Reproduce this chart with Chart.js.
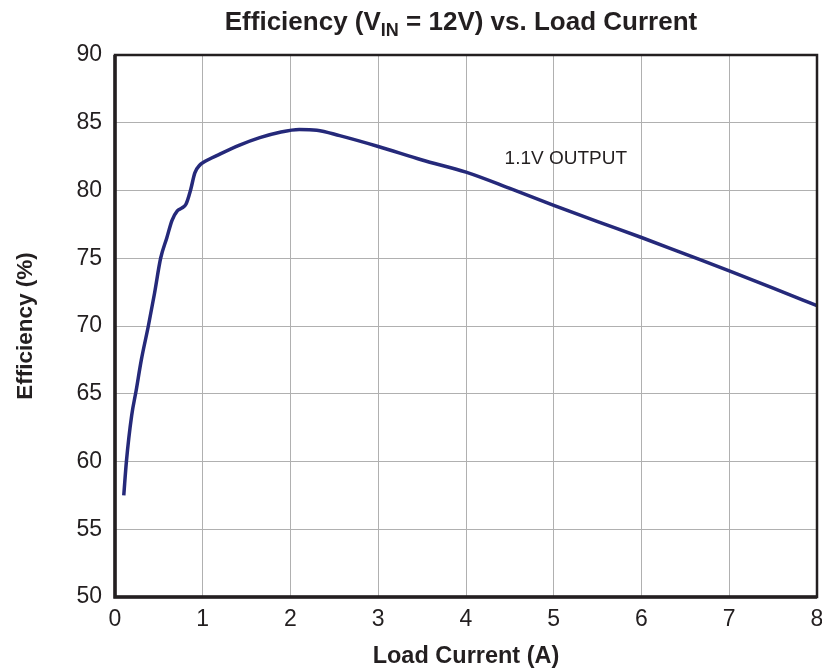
<!DOCTYPE html>
<html>
<head>
<meta charset="utf-8">
<script src="https://cdn.jsdelivr.net/npm/chart.js@4.4.1/dist/chart.umd.min.js"></script>
<style>
  body { margin: 0; background: #fff; }
  #wrap { position: relative; width: 822px; height: 671px; }
  #title {
    position: absolute; left: 0; top: 6px; width: 822px; padding-left: 100px; box-sizing: border-box;
    text-align: center; font: bold 26px "Liberation Sans", Arial, sans-serif; color: #231f20;
  }
  #title sub { font-size: 18px; vertical-align: -6px; line-height: 0; }
</style>
</head>
<body>
<div id="wrap">
  <div id="title">Efficiency (V<sub>IN</sub> = 12V) vs. Load Current</div>
  <canvas id="chart" width="822" height="671"></canvas>
</div>
<script>
const loadCurrent = [0.10, 0.13, 0.19, 0.24, 0.30, 0.38, 0.45, 0.52, 0.59, 0.65, 0.71, 0.76, 0.81, 0.86, 0.91, 0.97, 1.0, 1.2, 1.42, 1.65, 1.88, 2.1, 2.3, 2.56, 3.0, 3.5, 4.0, 4.5, 5.0, 5.5, 6.0, 6.5, 7.0, 7.5, 8.0];
const efficiency  = [57.5, 60.0, 63.4, 65.2, 67.5, 70.0, 72.4, 75.0, 76.5, 77.8, 78.5, 78.7, 79.0, 80.0, 81.3, 81.9, 82.05, 82.7, 83.35, 83.9, 84.3, 84.5, 84.45, 84.05, 83.25, 82.25, 81.35, 80.15, 78.9, 77.7, 76.53, 75.3, 74.07, 72.8, 71.5];
const xTicks = [0, 1, 2, 3, 4, 5, 6, 7, 8];
const yTicks = [50, 55, 60, 65, 70, 75, 80, 85, 90];
const seriesLabel = "1.1V OUTPUT";

const points = loadCurrent.map((x, i) => ({x: x, y: efficiency[i]}));
const FONT = '"Liberation Sans", Arial, sans-serif';

const frame = {
  id: 'frame',
  afterDatasetsDraw(chart) {
    const {ctx, chartArea: a, scales} = chart;
    ctx.save();
    ctx.strokeStyle = '#231f20';
    ctx.lineWidth = 2.5;
    ctx.strokeRect(a.left, a.top, a.right - a.left, a.bottom - a.top);
    ctx.lineWidth = 3.5;
    ctx.beginPath();
    ctx.moveTo(a.left, a.top); ctx.lineTo(a.left, a.bottom); ctx.lineTo(a.right, a.bottom);
    ctx.stroke();
    // series label
    ctx.fillStyle = '#231f20';
    ctx.font = '19px ' + FONT;
    ctx.textBaseline = 'middle';
    ctx.fillText(seriesLabel, scales.x.getPixelForValue(4.44), scales.y.getPixelForValue(82.35));
    ctx.restore();
  }
};

new Chart('chart', {
  type: 'line',
  data: {
    datasets: [{
      data: points,
      borderColor: '#25297a',
      borderWidth: 3.5,
      pointRadius: 0,
      cubicInterpolationMode: 'monotone',
      fill: false
    }]
  },
  options: {
    responsive: false,
    animation: false,
    layout: {padding: {top: 55, right: 5, left: 0, bottom: 0}},
    plugins: {legend: {display: false}, tooltip: {enabled: false}},
    scales: {
      x: {
        type: 'linear', min: 0, max: 8,
        afterBuildTicks: s => { s.ticks = xTicks.map(v => ({value: v})); },
        afterFit: s => { s.height = 74; s.paddingLeft = 0; s.paddingRight = 0; },
        grid: {color: '#b0b0b0', lineWidth: 1, drawTicks: false},
        border: {display: false},
        ticks: {color: '#231f20', padding: 9, font: {family: FONT, size: 23}},
        title: {display: true, text: 'Load Current (A)', color: '#231f20', padding: {top: 0, bottom: 0},
                font: {family: FONT, size: 23.5, weight: 'bold'}}
      },
      y: {
        min: 50, max: 90,
        afterBuildTicks: s => { s.ticks = yTicks.map(v => ({value: v})); },
        afterFit: s => { s.width = 115; s.paddingTop = 0; s.paddingBottom = 0; },
        grid: {color: '#b0b0b0', lineWidth: 1, drawTicks: false},
        border: {display: false},
        ticks: {color: '#231f20', padding: 13, font: {family: FONT, size: 23}},
        title: {display: true, text: 'Efficiency (%)', color: '#231f20', padding: {top: 12, bottom: 0},
                font: {family: FONT, size: 22.5, weight: 'bold'}}
      }
    }
  },
  plugins: [frame]
});
</script>
</body>
</html>
